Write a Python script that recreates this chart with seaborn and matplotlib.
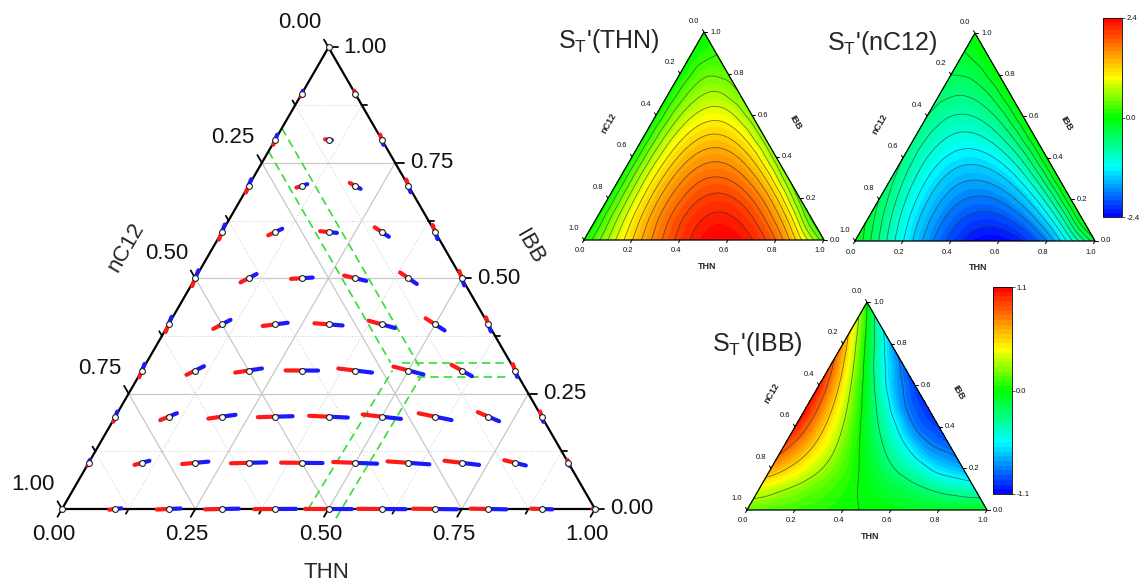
import numpy as np
import matplotlib
matplotlib.use('Agg')
import matplotlib.pyplot as plt
import matplotlib.tri as mtri
from matplotlib.colors import LinearSegmentedColormap
import seaborn as sns

sns.set_theme(style='white')
plt.rcParams['font.family'] = ['Liberation Sans', 'DejaVu Sans']
plt.rcParams['mathtext.fontset'] = 'custom'
plt.rcParams['mathtext.rm'] = 'Liberation Sans'

# composition grid, step 0.1 : rows = IBB fraction, columns = THN fraction
comp = [0.0, 0.1, 0.2, 0.3, 0.4, 0.5, 0.6, 0.7, 0.8, 0.9, 1.0]

# S_T' values read on the grid (one row per IBB level, THN from 0 upward)
st_thn = [
    [0.00, 0.61, 1.19, 1.69, 2.08, 2.33, 2.38, 2.21, 1.79, 1.06, 0.25],
    [0.00, 0.68, 1.29, 1.78, 2.11, 2.26, 2.17, 1.82, 1.17, 0.18],
    [0.00, 0.72, 1.33, 1.77, 2.02, 2.04, 1.79, 1.23, 0.32],
    [0.00, 0.74, 1.31, 1.68, 1.81, 1.67, 1.22, 0.42],
    [0.00, 0.72, 1.23, 1.50, 1.49, 1.16, 0.48],
    [0.00, 0.67, 1.09, 1.23, 1.04, 0.50],
    [0.00, 0.59, 0.89, 0.87, 0.48],
    [0.00, 0.48, 0.64, 0.42],
    [0.00, 0.35, 0.32],
    [0.00, 0.18],
    [0.00],
]
st_nc12 = [
    [0.00, -0.61, -1.19, -1.69, -2.08, -2.33, -2.38, -2.21, -1.79, -1.06, -0.25],
    [-0.23, -0.81, -1.33, -1.74, -2.02, -2.12, -2.00, -1.64, -0.98, 0.00],
    [-0.40, -0.94, -1.38, -1.70, -1.84, -1.78, -1.48, -0.90, 0.00],
    [-0.53, -1.00, -1.36, -1.56, -1.55, -1.32, -0.81, 0.00],
    [-0.60, -1.00, -1.25, -1.31, -1.15, -0.73, 0.00],
    [-0.63, -0.93, -1.06, -0.97, -0.63, 0.00],
    [-0.60, -0.80, -0.79, -0.54, 0.00],
    [-0.53, -0.60, -0.44, 0.00],
    [-0.40, -0.33, 0.00],
    [-0.23, 0.00],
    [0.00],
]
st_ibb = [
    [0.15, 0.12, 0.09, 0.06, 0.02, -0.01, -0.03, -0.05, -0.06, -0.06, -0.05],
    [0.38, 0.29, 0.19, 0.10, 0.01, -0.08, -0.17, -0.27, -0.36, -0.42],
    [0.67, 0.49, 0.30, 0.12, -0.06, -0.25, -0.43, -0.62, -0.72],
    [0.88, 0.61, 0.33, 0.05, -0.22, -0.50, -0.77, -0.88],
    [1.01, 0.64, 0.27, -0.10, -0.46, -0.83, -0.97],
    [1.05, 0.59, 0.13, -0.33, -0.79, -1.00],
    [1.01, 0.46, -0.10, -0.65, -0.97],
    [0.88, 0.24, -0.41, -0.88],
    [0.67, -0.06, -0.72],
    [0.38, -0.42],
    [0.00],
]

# green dashed guide bands : (THN, IBB) start -> end
bands = [
    ((0.000, 0.825), (0.515, 0.310)),
    ((0.000, 0.775), (0.458, 0.317)),
    ((0.462, 0.000), (0.470, 0.300)),
    ((0.524, -0.020), (0.530, 0.286)),
    ((0.479, 0.317), (0.676, 0.317)),
    ((0.522, 0.287), (0.693, 0.287)),
]

ticks_main = [0.0, 0.25, 0.5, 0.75, 1.0]
ticks_minor = [0.125, 0.375, 0.625, 0.875]
ticks_small = [0.0, 0.2, 0.4, 0.6, 0.8, 1.0]

W, H = 1144, 583
R3 = np.sqrt(3) / 2
fig = plt.figure(figsize=(W / 100, H / 100), dpi=100)

cmap = LinearSegmentedColormap.from_list('origin_rainbow', [
    (0.0, '#0000ff'), (0.25, '#00ffff'), (0.5, '#00ff00'),
    (0.7, '#ffff00'), (0.85, '#ff8000'), (1.0, '#ff0000')])


def txy(t, b):
    return t + b / 2, b * R3


def tri_axes(x0, y0, side, pad):
    # x0, y0 : pixel of the bottom-left vertex (y from top)
    ax = fig.add_axes([(x0 - pad) / W, (H - y0 - pad) / H,
                       (side + 2 * pad) / W, (side * R3 + 2 * pad) / H])
    ax.set_xlim(-pad / side, 1 + pad / side)
    ax.set_ylim(-pad / side, R3 + pad / side)
    ax.set_axis_off()
    ax.patch.set_visible(False)
    return ax


def frame(ax, side, ticks, fmt, fs, tlen, lw, off_b, off_l, off_r,
          tfs, tpos, tweight='normal', minor=()):
    ax.plot([0, 1, 0.5, 0], [0, 0, R3, 0], color='black', lw=lw, zorder=5,
            solid_joinstyle='miter')
    for v, l in [(v, tlen / side) for v in ticks] + [(v, 0.6 * tlen / side) for v in minor]:
        ax.plot([v, v - 0.5 * l], [0, -R3 * l], color='black', lw=lw * 0.8, zorder=5)
        x, y = 1 - v / 2, v * R3
        ax.plot([x, x + l], [y, y], color='black', lw=lw * 0.8, zorder=5)
        x, y = (1 - v) / 2, (1 - v) * R3
        ax.plot([x, x - 0.5 * l], [y, y + R3 * l], color='black', lw=lw * 0.8, zorder=5)
    for v in ticks:
        s = fmt.format(v)
        ax.text(v + off_b[0] / side, off_b[1] / side, s, fontsize=fs,
                ha='center', va='center', color='#111111')
        x, y = (1 - v) / 2, (1 - v) * R3
        ax.text(x + off_l[0] / side, y + off_l[1] / side, s, fontsize=fs,
                ha='center', va='center', color='#111111')
        x, y = 1 - v / 2, v * R3
        ax.text(x + off_r[0] / side, y + off_r[1] / side, s, fontsize=fs,
                ha='left', va='center', color='#111111')
    for name, (x, y), rot in zip(['nC12', 'IBB', 'THN'], tpos, [60, -60, 0]):
        ax.text(x, y, name, fontsize=tfs, rotation=rot, ha='center', va='center',
                fontweight=tweight, rotation_mode='anchor')


# ---------------- main ternary with glyphs ----------------
ax = tri_axes(62, 509, 533, 45)
for v in ticks_main[1:-1] + ticks_minor:
    sty = dict(color='#c8c8c8', lw=0.9) if v in ticks_main else dict(color='#c8c8c8', lw=0.7, ls=(0, (1, 2)))
    for p0, p1 in [((v, 0), (v, 1 - v)), ((0, v), (1 - v, v)), ((1 - v, 0), (0, 1 - v))]:
        x0, y0 = txy(*p0)
        x1, y1 = txy(*p1)
        ax.plot([x0, x1], [y0, y1], zorder=1, **sty)

for (t0, b0), (t1, b1) in bands:
    x0, y0 = txy(t0, b0)
    x1, y1 = txy(t1, b1)
    ax.plot([x0, x1], [y0, y1], color='#33dd33', lw=1.2, ls=(0, (5, 3)), zorder=2)

K = 0.0188
for i, b in enumerate(comp):
    for j, (va, vn, vc) in enumerate(zip(st_thn[i], st_nc12[i], st_ibb[i])):
        x, y = txy(comp[j], b)
        p = (2 * va - vn - vc) / 3
        q = (2 * vc - va - vn) / 3
        dx, dy = K * (p + 0.5 * q), K * R3 * q
        ax.plot([x - dx, x], [y - dy, y], color='#ff1a1a', lw=3.0, zorder=7,
                solid_capstyle='round')
        ax.plot([x, x + dx], [y, y + dy], color='#1a1aff', lw=3.0, zorder=7,
                solid_capstyle='round')
        ax.plot(x, y, 'o', ms=4.2, mfc='white', mec='#222222', mew=0.8, zorder=8)

frame(ax, 533, ticks_main, '{:.2f}', 16, 9, 1.6, (-8, -26), (-29, 25), (15, 0),
      16, [(0.12, 0.4916), (0.878, 0.4916), (0.497, -0.12)], minor=ticks_minor)

# ---------------- contour panels ----------------
px, py = [], []
for i, b in enumerate(comp):
    for j in range(len(comp) - i):
        x, y = txy(comp[j], b)
        px.append(x)
        py.append(y)
triang = mtri.Triangulation(px, py)
refiner = mtri.UniformTriRefiner(triang)


def panel(x0, y0, field, lim, step, line_levels):
    a = tri_axes(x0, y0, 240, 30)
    z = np.array([v for row in field for v in row])
    interp = mtri.CubicTriInterpolator(triang, z, kind='geom')
    tri_r, z_r = refiner.refine_field(z, triinterpolator=interp, subdiv=4)
    z_r = np.clip(z_r, -lim + 1e-6, lim - 1e-6)
    levels = np.linspace(-lim, lim, int(round(2 * lim / step)) + 1)
    cf = a.tricontourf(tri_r, z_r, levels=levels, cmap=cmap, vmin=-lim, vmax=lim)
    a.tricontour(tri_r, z_r, levels=line_levels, colors='#333333',
                 linewidths=0.6, alpha=0.65, linestyles='solid')
    frame(a, 240, ticks_small, '{:.1f}', 5.5, 3, 0.9, (-4, -11), (-10, 11), (6, 0),
          6.5, [(0.103, 0.488), (0.88, 0.488), (0.512, -0.11)], tweight='bold')
    return cf


lines24 = [-2.2, -2.0, -1.8, -1.6, -1.4, -1.2, -1.0, -0.8, -0.6, -0.4, -0.2,
           0.2, 0.4, 0.6, 0.8, 1.0, 1.2, 1.4, 1.6, 1.8, 2.0, 2.2]
cf1 = panel(584, 240, st_thn, 2.4, 0.1, lines24)
cf2 = panel(855, 241, st_nc12, 2.4, 0.1, lines24)
cf3 = panel(747, 510, st_ibb, 1.1, 0.05, [-0.825, -0.55, -0.275, 0.0, 0.275, 0.55, 0.825])

for cf, (l, t, w, h), lim in [(cf1, (1103, 18, 19, 199), 2.4), (cf3, (993, 287, 19, 207), 1.1)]:
    cax = fig.add_axes([l / W, (H - t - h) / H, w / W, h / H])
    cb = fig.colorbar(cf, cax=cax, ticks=[-lim, 0, lim])
    cb.ax.set_yticklabels(['{:.1f}'.format(-lim), '0.0', '{:.1f}'.format(lim)])
    cb.ax.tick_params(labelsize=5.5, length=2, width=0.5, pad=1, colors='#111111')
    cb.outline.set_linewidth(0.6)
    cb.outline.set_edgecolor('black')

fig.text(558 / W, 1 - 41 / H, r"S$_\mathrm{T}$'(THN)", fontsize=18, ha='left', va='center')
fig.text(827 / W, 1 - 43 / H, r"S$_\mathrm{T}$'(nC12)", fontsize=18, ha='left', va='center')
fig.text(712 / W, 1 - 344 / H, r"S$_\mathrm{T}$'(IBB)", fontsize=18, ha='left', va='center')

fig.savefig('out.png', dpi=100, facecolor='white')
